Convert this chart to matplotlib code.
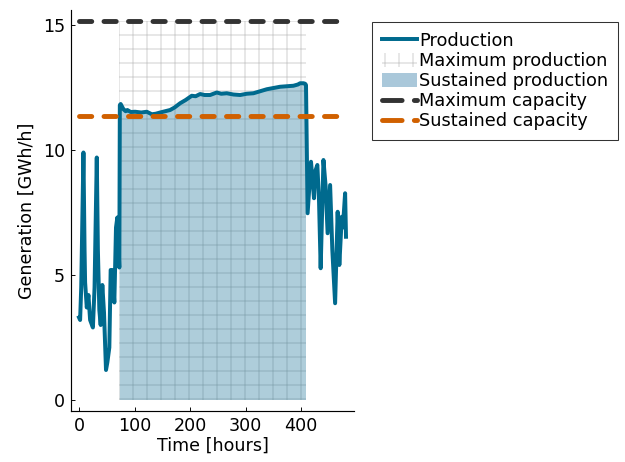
import matplotlib
matplotlib.use("Agg")
import matplotlib.pyplot as plt
import numpy as np
from matplotlib.patches import Patch
from matplotlib.lines import Line2D

# ---- data ----
time_h = [0, 2, 4, 8, 10, 11, 14, 17, 20, 25, 28, 32, 34, 36.6, 39, 42, 45, 48.6,
          51, 54.6, 57, 60, 63.6, 66.6, 69, 72.6, 73.5, 75, 80, 84, 87, 93, 101,
          112, 122, 131, 138, 146, 155, 164, 172, 182, 192, 203, 210, 218, 226,
          236, 242, 248, 256, 266, 278, 290, 302, 314, 326, 338, 350, 362, 374,
          386, 394, 398, 404, 407, 408.6, 411.5, 417.6, 423, 425, 429, 432, 435,
          440, 444, 447.5, 452, 456, 461, 465.6, 468.6, 473, 475, 479, 480.6]
production = [3.3, 3.2, 4.5, 9.9, 6.0, 4.7, 3.7, 4.2, 3.2, 2.9, 4.5, 9.7, 6.0, 3.6,
              3.0, 4.6, 3.5, 1.2, 1.5, 2.1, 5.2, 5.2, 3.9, 6.9, 7.3, 5.3, 11.8,
              11.84, 11.63, 11.55, 11.6, 11.52, 11.53, 11.5, 11.53, 11.43, 11.45,
              11.5, 11.55, 11.6, 11.7, 11.87, 12.0, 12.17, 12.15, 12.24, 12.2,
              12.2, 12.25, 12.3, 12.25, 12.27, 12.22, 12.2, 12.25, 12.27, 12.35,
              12.43, 12.48, 12.53, 12.55, 12.57, 12.62, 12.67, 12.67, 12.65, 12.6,
              7.47, 9.53, 8.07, 9.13, 9.4, 8.0, 5.27, 9.6, 8.53, 6.67, 8.6, 6.0,
              3.87, 7.53, 5.4, 7.33, 6.9, 8.27, 6.53]
max_capacity = 15.15
sustained_capacity = 11.35
sustained_start = 73.5
sustained_end = 408.6
maxprod_start = 72.0
maxprod_end = 408.6
xticks = [0, 100, 200, 300, 400]
yticks = [0, 5, 10, 15]

# ---- style ----
DPI = 84
plt.rcParams['font.family'] = ['DejaVu Sans']
plt.rcParams['hatch.linewidth'] = 1.0
line_col = '#006a8e'
fill_col = '#aac8da'
hatch_col = '#d6d6d6'
maxcap_col = '#333333'
suscap_col = '#d06000'

fig = plt.figure(figsize=(625 / DPI, 462 / DPI), dpi=DPI)
ax = fig.add_axes([71 / 625, 1 - 411 / 462, (354 - 71) / 625, (411 - 10) / 462])

t = np.array(time_h)
p = np.array(production)

# maximum production: hatched region
ax.fill_between([maxprod_start, maxprod_end], 0, max_capacity, facecolor='none',
                edgecolor=hatch_col, hatch='+', linewidth=0, zorder=1)
# sustained production: filled under curve
mask = (t >= sustained_start) & (t <= sustained_end)
ts = np.concatenate([[sustained_start], t[mask], [sustained_end]])
ps = np.concatenate([[p[mask][0]], p[mask], [p[mask][-1]]])
ax.fill_between(ts, 0, ps, facecolor='#0a6a90', alpha=0.33, linewidth=0, zorder=2)

ax.plot(t, p, color=line_col, lw=3.4, solid_joinstyle='round', zorder=3)
ax.plot([t[0], t[-1]], [max_capacity, max_capacity], color=maxcap_col, lw=4.2,
        dashes=(2.5, 2.5), dash_capstyle='round', zorder=4)
ax.plot([t[0], t[-1]], [sustained_capacity, sustained_capacity], color=suscap_col,
        lw=4.2, dashes=(2.5, 2.5), dash_capstyle='round', zorder=4)

ax.set_xlim(-14.4, 495)
ax.set_ylim(-0.44, 15.6)
ax.set_xticks(xticks)
ax.set_yticks(yticks)
for s in ['top', 'right']:
    ax.spines[s].set_visible(False)
ax.spines['left'].set_linewidth(1.0)
ax.spines['bottom'].set_linewidth(1.0)
ax.tick_params(direction='in', length=3.5, width=0.8, labelsize=15, pad=5)
ax.set_xlabel('Time [hours]', fontsize=15, labelpad=2)
ax.set_ylabel('Generation [GWh/h]', fontsize=15, labelpad=6)

handles = [
    Line2D([], [], color=line_col, lw=3.4),
    Patch(facecolor='white', edgecolor=hatch_col, hatch='+', linewidth=0),
    Patch(facecolor=fill_col, edgecolor='none'),
    Line2D([], [], color=maxcap_col, lw=4.2, dashes=(4.0, 2.5), dash_capstyle='round'),
    Line2D([], [], color=suscap_col, lw=4.2, dashes=(4.0, 2.5), dash_capstyle='round'),
]
labels = ['Production', 'Maximum production', 'Sustained production',
          'Maximum capacity', 'Sustained capacity']
leg = fig.legend(handles, labels, loc='upper left',
                 bbox_to_anchor=(372 / 625, 1 - 22 / 462), bbox_transform=fig.transFigure,
                 fontsize=15.2, frameon=True, fancybox=False, edgecolor='#333333',
                 framealpha=1, borderaxespad=0, handlelength=2.0, handletextpad=0.1,
                 labelspacing=0.12, borderpad=0.55, handleheight=0.8)
leg.get_frame().set_linewidth(0.9)

fig.savefig('out.png', dpi=DPI)
